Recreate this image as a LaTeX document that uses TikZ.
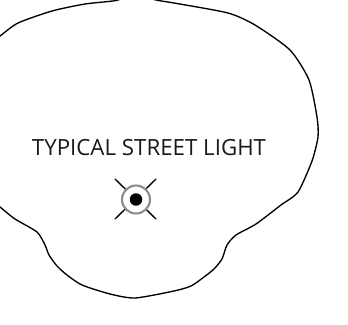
\documentclass[tikz,border=0pt]{standalone}
\usepackage{fontspec}
\setmainfont{Open Sans}
\tikzset{outline/.style={draw=black,line width=1.35pt,line join=round},
 tick/.style={draw=black,line width=1.35pt,line cap=round},
 lamp/.style={circle,draw=black!45,line width=2.1pt,minimum size=28pt,inner sep=0pt,fill=white},
 bulb/.style={circle,fill=black,minimum size=12.5pt,inner sep=0pt}}
\begin{document}
\begin{tikzpicture}[x=1pt,y=-1pt]
\useasboundingbox (0,0) rectangle (348,324);
\clip (0,0) rectangle (348,324);
\draw[outline] plot[smooth,tension=.4] coordinates {(-12,44)(0,36)(18,23)(52,11)(85,4)(116,0.5)(136,-6)(156,0)(174,3)(228,13)(255,25)(290,50)(309,80)(317,117)(318,137)(312,161)(298,192)(281,205)(256,224)(236,235)(227,245)(222,259)(214,269)(204,277)(191,286)(174,291)(135,298)(110,294)(82,285)(67,275)(57,266)(49,255)(45,245)(37,232)(15,219)(0,207)(-12,197)};
\node[font=\fontsize{22.3pt}{26pt}\selectfont,text=black!90,inner sep=0pt,anchor=base] (label) at (149,155) {TYPICAL STREET LIGHT};
\coordinate (c) at (136,199.5);
\coordinate (tl) at (115,179);
\coordinate (tr) at (156,179);
\coordinate (bl) at (115,219);
\coordinate (br) at (156,219);
\draw[tick] (tl) -- (br);
\draw[tick] (tr) -- (bl);
\node[lamp] (ring) at (c) {};
\node[bulb] (dot) at (c) {};
\end{tikzpicture}
\end{document}
